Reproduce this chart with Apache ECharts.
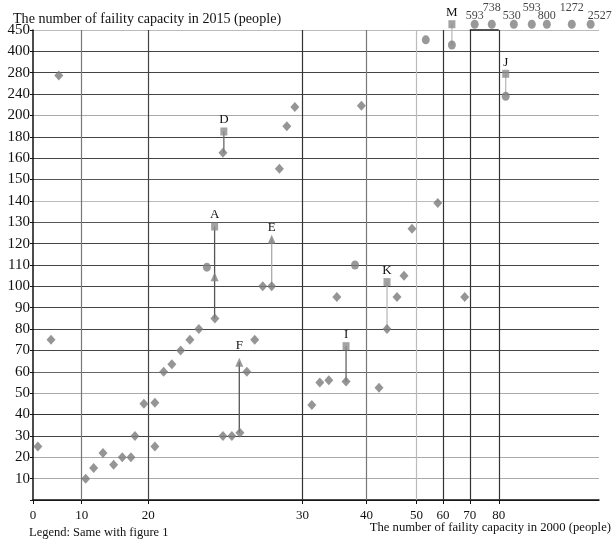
<!DOCTYPE html>
<html><head><meta charset="utf-8">
<script src="https://cdn.jsdelivr.net/npm/echarts@6/dist/echarts.min.js"></script>
<style>html,body{margin:0;padding:0;background:#fff}#c{width:614px;height:544px}</style>
</head><body><div id="c"></div>
<script>
// ---- axis tick values (non-uniform broken scales of the original) ----
const yTicks = [0,10,20,30,40,50,60,70,80,90,100,110,120,130,140,150,160,180,200,240,280,400,450];
const xTicks = [0,10,20,30,40,50,60,70,80];
// relative breakpoints of the stretched x scale (scale definition, not data)
const xTickPos = [0,48.7,115.3,269.7,333.7,383.7,410.3,437,466];

// ---- data (2000 capacity, 2015 capacity) ----
const diamondX = [1.0,5.3,3.7,10.6,11.8,13.2,14.8,16.1,17.4,18.0,19.35,20.43,20.43,21.0,21.53,22.1,22.7,23.28,24.32,24.84,24.84,25.42,25.94,26.39,26.9,27.42,28.0,28.5,28.98,29.5,31.45,32.7,34.1,35.36,36.8,39.2,42.5,44.1,46.1,47.5,49.1,58.0,68.1];
const diamondY = [25,275,75,10,15,22,16.5,20,20,30,45,45.5,25,60,63.5,70,75,80,85,165,30,30,31.5,60,75,100,100,155,190,216,44.5,55,56,95,55.5,218,52.5,80,95,105,127,139,95];
const circleX = [23.8,38.2,53.5,63.3,82.4];
const circleY = [109,110,427,415,236];
const overflowX = [71.7,77.6,85.2,91.4,96.6,105.2,111.7];
const overflowVal = [593,738,530,593,800,1272,2527];
const squareX = [24.9,24.3,36.8,44.1,63.3,82.4];
const squareY = [185,128,72,102,460,278]; // M is above 450
const triangleX = [24.3,28.0,25.9];
const triangleY = [104.5,122,64.5];
const pairNames = ['A','D','E','F','I','K','M','J'];
const pairX = [24.3,24.9,28.0,25.9,36.8,44.1,63.3,82.4];
const pairTop = [128,185,122,64.5,72,102,460,278];
const pairBottom = [85,165,100,31.5,55.5,80,415,236];

// ---- styles ----
const pairLineColor = ['#555','#666','#aaa','#555','#666','#bbb','#bbb','#bbb'];
const pairLabelLift = [0,0,0,5,0,0,0,0];
const overflowLabelDx = [0,0,-2,0,0,0,9];
const hGridColors = ['#333','#aaa','#aaa','#444','#333','#aaa','#666','#444','#444','#444','#444','#444','#444','#555','#bbb','#555','#444','#444','#aaa','#444','#444','#444','#bbb'];
const vGridColors = ['#333','#777','#444','#333','#777','#bbb','#333','#333','#333'];
const serif = '"Liberation Serif","Times New Roman",serif';

function interp(v, a, b){
  if (v <= a[0]) return b[0];
  for (let i = 1; i < a.length; i++) if (v <= a[i]) return b[i-1] + (v-a[i-1])/(a[i]-a[i-1])*(b[i]-b[i-1]);
  const n = a.length-1; return b[n] + (v-a[n])/(a[n]-a[n-1])*(b[n]-b[n-1]);
}
const yIdx = yTicks.map((_, i) => i);
const toX = v => interp(v, xTicks, xTickPos);
const toY = v => v > 450 ? 22.27 : interp(v, yTicks, yIdx);
const pts = (xs, ys) => xs.map((x, i) => [toX(x), toY(ys[i])]);
const nearestTick = v => { let b = 0; xTickPos.forEach((p,i)=>{ if (Math.abs(p-v) < Math.abs(xTickPos[b]-v)) b = i; }); return b; };

const chart = echarts.init(document.getElementById('c'));
const series = [];

// vertical grid lines + top segment
series.push({
  type: 'line', data: [[0,0]], showSymbol: false, silent: true, z: 1,
  lineStyle: {width: 0},
  markLine: {
    silent: true, symbol: 'none', label: {show: false}, animation: false,
    data: xTickPos.slice(1).map((p, i) => ({xAxis: p, lineStyle: {color: vGridColors[i+1], width: 1.2, type: 'solid'}}))
      .concat([[{coord: [toX(70), 22], lineStyle: {color: '#222', width: 1.5, type: 'solid'}}, {coord: [toX(80), 22]}]])
  }
});

// connectors
pairNames.forEach((n, i) => {
  series.push({
    type: 'line', silent: true, z: 2, showSymbol: false, symbol: 'none',
    data: [[toX(pairX[i]), toY(pairTop[i])], [toX(pairX[i]), toY(pairBottom[i])]],
    lineStyle: {color: pairLineColor[i], width: 1.3}, clip: false
  });
});

series.push({type: 'scatter', symbol: 'diamond', symbolSize: [9,10], data: pts(diamondX, diamondY), itemStyle: {color: '#7b7b7b'}, clip: false, z: 5});
series.push({type: 'scatter', symbol: 'circle', symbolSize: [8,9], data: pts(circleX, circleY), itemStyle: {color: '#808080'}, clip: false, z: 5});
series.push({
  type: 'scatter', symbol: 'circle', symbolSize: [8,9], clip: false, z: 5,
  itemStyle: {color: '#808080'},
  data: overflowX.map((x, i) => ({
    value: [toX(x), toY(overflowVal[i])],
    label: {show: true, position: 'inside', formatter: String(overflowVal[i]),
      offset: [overflowLabelDx[i], i % 2 === 0 ? -8.5 : -16.5],
      color: '#111', fontFamily: serif, fontSize: 12}
  }))
});
series.push({type: 'scatter', symbol: 'rect', symbolSize: [7,8], data: pts(squareX, squareY), itemStyle: {color: '#8c8c8c'}, clip: false, z: 5});
series.push({type: 'scatter', symbol: 'triangle', symbolSize: [8,9], data: pts(triangleX, triangleY), itemStyle: {color: '#808080'}, clip: false, z: 5});
// letter labels
series.push({
  type: 'scatter', symbolSize: 8, itemStyle: {color: 'rgba(0,0,0,0)'}, clip: false, z: 6, silent: true,
  data: pairX.map((x, i) => ({
    value: [toX(x), toY(pairTop[i])],
    label: {show: true, position: 'top', distance: 1 + pairLabelLift[i], formatter: pairNames[i],
      color: '#111', fontFamily: serif, fontSize: 13, opacity: 1}
  }))
});

chart.setOption({
  animation: false,
  backgroundColor: '#fff',
  grid: {left: 33, right: 15, top: 30, bottom: 44, containLabel: false},
  xAxis: {
    type: 'value', min: 0, max: 566.3,
    axisLine: {show: true, onZero: false, lineStyle: {color: '#111', width: 1.5}},
    axisTick: {show: true, length: 4, customValues: xTickPos, lineStyle: {color: '#111'}},
    axisLabel: {show: true, customValues: xTickPos, margin: 9, color: '#111', fontFamily: serif, fontSize: 13,
      formatter: v => String(xTicks[nearestTick(v)])},
    splitLine: {show: false}
  },
  yAxis: {
    type: 'value', min: 0, max: 22, interval: 1,
    axisLine: {show: true, onZero: false, lineStyle: {color: '#111', width: 1.5}},
    axisTick: {show: true, length: 3, lineStyle: {color: '#111'}},
    axisLabel: {margin: 3, color: '#111', fontFamily: serif, fontSize: 15,
      formatter: v => { const k = Math.round(v); return k === 0 ? '' : String(yTicks[k]); }},
    splitLine: {show: true, lineStyle: {color: hGridColors, width: 1.2}}
  },
  graphic: [
    {type: 'text', x: 13, y: 19, style: {text: 'The number of faility capacity in 2015 (people)', font: '14.1px ' + serif, fill: '#111', verticalAlign: 'middle'}},
    {type: 'text', x: 29, y: 533, style: {text: 'Legend: Same with figure 1', font: '12.5px ' + serif, fill: '#111', verticalAlign: 'middle'}},
    {type: 'text', x: 611, y: 528, style: {text: 'The number of faility capacity in 2000 (people)', font: '12.7px ' + serif, fill: '#111', align: 'right', verticalAlign: 'middle'}}
  ],
  series: series
});
</script></body></html>
